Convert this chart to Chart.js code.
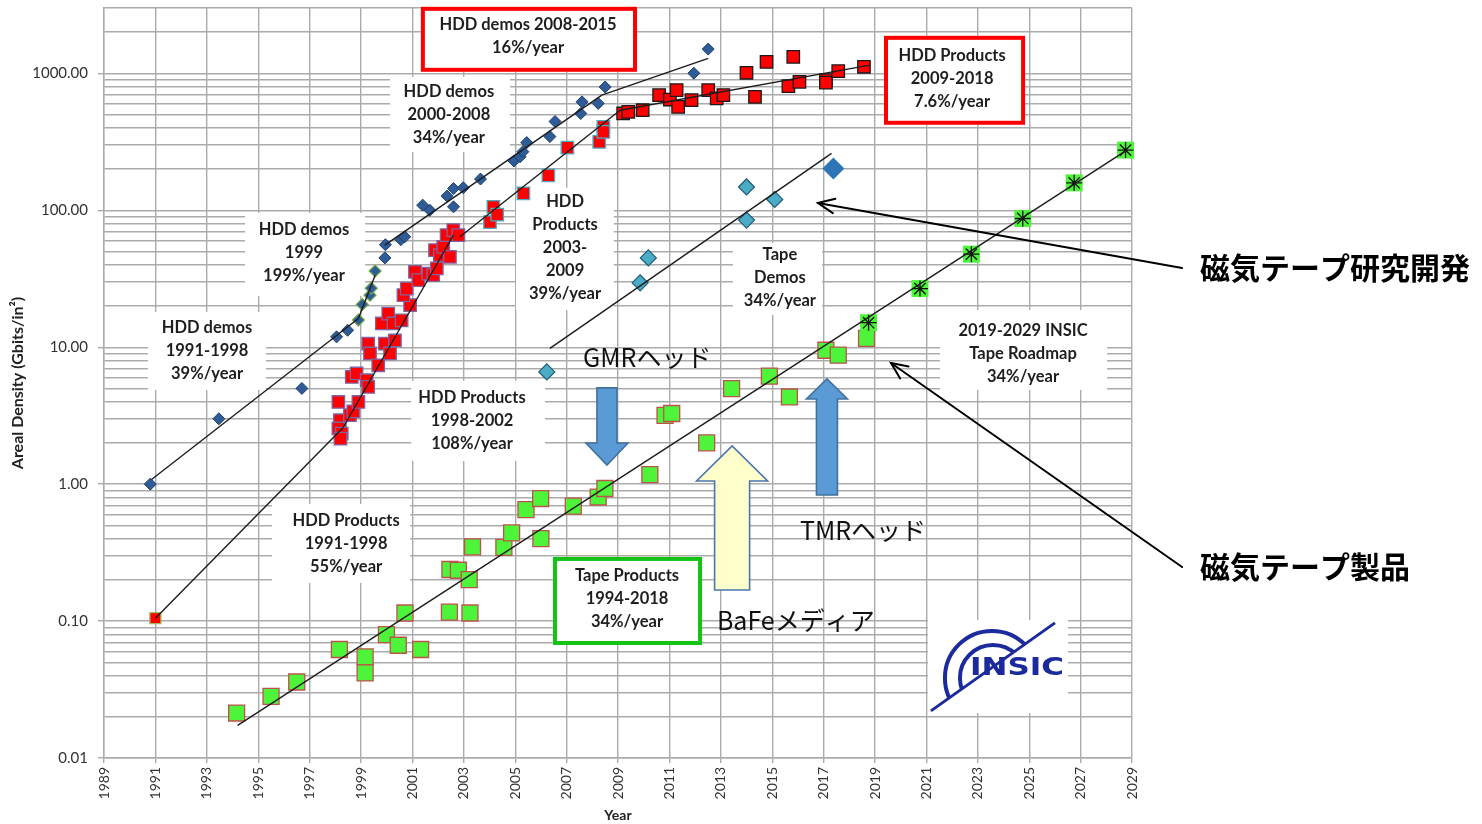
<!DOCTYPE html>
<html>
<head>
<meta charset="utf-8">
<script src="https://cdn.jsdelivr.net/npm/chart.js@4.4.1/dist/chart.umd.min.js"></script>
<style>
  html, body { margin: 0; padding: 0; background: #ffffff; }
  canvas { display: block; }
</style>
</head>
<body>
<canvas id="c" width="1482" height="824"></canvas>
<script>
// ---------- axes ----------
const xTickYears = [1989, 1991, 1993, 1995, 1997, 1999, 2001, 2003, 2005, 2007, 2009,
                    2011, 2013, 2015, 2017, 2019, 2021, 2023, 2025, 2027, 2029];
const yTickValues = [0.01, 0.1, 1, 10, 100, 1000];
const yTickLabels = ['0.01', '0.10', '1.00', '10.00', '100.00', '1000.00'];

// ---------- HDD demos (diamonds) ----------
const hddDemoYears  = [1990.8, 1993.47, 1996.7, 1998.05, 1998.48, 1999.93, 1999.95, 2000.55, 2000.7,
                       2001.4, 2001.68, 2002.35, 2002.6, 2002.6, 2002.98, 2003.65, 2004.95, 2005.19,
                       2005.3, 2005.45, 2006.35, 2006.55, 2007.55, 2007.6, 2008.23, 2008.5, 2011.95, 2012.51];
const hddDemoValues = [1.0, 3.0, 5.0, 11.9, 13.3, 44.9, 56, 61, 64,
                       109, 100, 127, 106, 144, 146, 169, 229, 246,
                       268, 312, 345, 445, 509, 619, 603, 795, 1002, 1503];
// HDD demos of 1999
const hddDemo99Years  = [1998.9, 1999.05, 1999.35, 1999.4, 1999.55];
const hddDemo99Values = [15.8, 20.5, 24, 27, 36];

// ---------- HDD products (squares) ----------
const hddProd91Years  = [1991.0];
const hddProd91Values = [0.105];
const hddProd98Years  = [1998.12, 1998.18, 1998.12, 1998.25, 1998.2, 1998.57, 1998.7, 1998.9, 1998.64, 1998.83,
                         1999.22, 1999.28, 1999.28, 1999.35, 1999.67, 1999.93, 1999.81, 2000.06, 2000.26,
                         2000.32, 2000.13, 2000.58, 2000.91, 2000.65, 2000.78, 2001.1, 2001.23, 2001.62,
                         2001.81, 2001.95, 2001.88, 2002.07, 2002.2, 2002.33, 2002.46, 2002.59, 2002.79];
const hddProd98Values = [3.98, 2.93, 2.55, 2.34, 2.15, 3.19, 3.4, 3.98, 6.07, 6.43,
                         5.74, 5.13, 10.6, 9.0, 7.38, 10.6, 14.9, 17.6, 14.9,
                         11.2, 9.0, 15.7, 20.3, 24.0, 26.8, 35.5, 30.9, 34.5,
                         33.6, 37.6, 51.1, 47.0, 54, 65.8, 45.7, 71.6, 65.8];
const hddProd03Years  = [2004.02, 2004.15, 2004.3, 2005.32, 2006.29, 2007.03, 2008.27, 2008.43, 2008.43];
const hddProd03Values = [82, 106, 93, 133, 180, 287, 316, 407, 374];
const hddProd09Years  = [2009.2, 2009.4, 2009.96, 2010.6, 2011.02, 2011.28, 2011.34, 2011.86, 2012.51,
                         2012.84, 2013.1, 2014.0, 2014.33, 2014.78, 2015.63, 2015.82, 2016.06, 2017.09,
                         2017.09, 2017.57, 2018.57];
const hddProd09Values = [509, 523, 538, 693, 644, 754, 569, 637, 754,
                         656, 693, 1009, 673, 1213, 806, 1320, 867, 892,
                         855, 1038, 1117];

// ---------- Tape demos (diamonds) ----------
const tapeDemoYears  = [2006.23, 2009.86, 2010.18, 2014.0, 2014.0, 2015.1];
const tapeDemoValues = [6.6, 29.5, 44.9, 148, 84.8, 120];
const tapeDemoLatestYears  = [2017.38];
const tapeDemoLatestValues = [202];

// ---------- Tape products (squares) ----------
const tapeProdYears  = [1994.16, 1995.5, 1996.5, 1998.16, 1999.16, 1999.16, 1999.99, 2000.45, 2000.71,
                        2001.32, 2002.44, 2002.46, 2002.79, 2003.21, 2003.24, 2003.34, 2004.56, 2004.86,
                        2005.42, 2005.99, 2006.0, 2007.26, 2008.23, 2008.49, 2010.24, 2010.83, 2011.09,
                        2012.45, 2013.42, 2014.89, 2015.67, 2017.09, 2017.57, 2018.67];
const tapeProdValues = [0.0213, 0.0282, 0.0359, 0.062, 0.0547, 0.0418, 0.0796, 0.0666, 0.1145,
                        0.062, 0.1164, 0.238, 0.235, 0.201, 0.1145, 0.348, 0.345, 0.44,
                        0.652, 0.785, 0.40, 0.69, 0.805, 0.929, 1.175, 3.18, 3.28,
                        2.0, 4.99, 6.14, 4.33, 9.5, 8.75, 11.6];

// ---------- INSIC tape roadmap ----------
const roadmapYears  = [2018.75, 2020.75, 2022.75, 2024.75, 2026.75, 2028.75];
const roadmapValues = [15.1, 26.8, 47.8, 87.1, 158.6, 275];

// ---------- growth trend lines (start, end) ----------
const trendDemo9198Years = [1990.85, 1998.9],  trendDemo9198Values = [1.08, 16.2];
const trendDemo99Years   = [1998.9, 1999.55],  trendDemo99Values   = [16.2, 33.6];
const trendDemo0008Years = [1999.93, 2008.37], trendDemo0008Values = [55.6, 693];
const trendDemo0815Years = [2008.37, 2012.51], trendDemo0815Values = [693, 1285];
const trendProd9198Years = [1991.0, 1998.3],   trendProd9198Values = [0.105, 2.58];
const trendProd9802Years = [1998.3, 2002.6],   trendProd9802Values = [2.58, 66];
const trendProd0309Years = [2002.85, 2009.08], trendProd0309Values = [64, 538];
const trendProd0918Years = [2009.08, 2018.8],  trendProd0918Values = [538, 1148];
const trendTapeDemoYears = [2006.35, 2017.31], trendTapeDemoValues = [9.8, 260];
const trendTapeProdYears = [1994.2, 2028.8],   trendTapeProdValues = [0.0173, 275];

// ---------- annotations (placed in year / value units) ----------
const labelNotes = [
  { lines: ['HDD demos 2008-2015', '16%/year'], at: [2005.5, 1862], box: [2001.33, 3060, 2009.74, 1026], edge: '#FF0000' },
  { lines: ['HDD demos', '2000-2008', '34%/year'], at: [2002.42, 498], box: [2000.13, 942, 2004.8, 267] },
  { lines: ['HDD Products', '2009-2018', '7.6%/year'], at: [2022.0, 912], box: [2019.35, 1879, 2024.84, 421], edge: '#FF0000' },
  { lines: ['HDD demos', '1999', '199%/year'], at: [1996.78, 48.9], box: [1994.49, 95.7, 1999.16, 23.7] },
  { lines: ['HDD demos', '1991-1998', '39%/year'], at: [1993.01, 9.4], box: [1990.71, 18.1, 1995.3, 4.87] },
  { lines: ['HDD', 'Products', '2003-', '2009', '39%/year'], at: [2006.94, 53.1], box: [2005.03, 146, 2008.84, 18.7] },
  { lines: ['Tape', 'Demos', '34%/year'], at: [2015.3, 32.1], box: [2013.47, 57.8, 2016.94, 17.2] },
  { lines: ['HDD Products', '1998-2002', '108%/year'], at: [2003.32, 2.9], box: [2000.95, 5.68, 2006.16, 1.475] },
  { lines: ['HDD Products', '1991-1998', '55%/year'], at: [1998.42, 0.365], box: [1995.54, 0.717, 2000.91, 0.19] },
  { lines: ['Tape Products', '1994-2018', '34%/year'], at: [2009.35, 0.145], box: [2006.47, 0.294, 2012.27, 0.0669], edge: '#14C314' },
  { lines: ['2019-2029 INSIC', 'Tape Roadmap', '34%/year'], at: [2024.76, 8.93], box: [2021.53, 18.7, 2028.03, 4.87] }
];
const techNotes = [
  { text: 'GMRヘッド', at: [2007.64, 8.35] },
  { text: 'TMRヘッド', at: [2016.08, 0.462] },
  { text: 'BaFeメディア', at: [2012.85, 0.1002] }
];
const calloutNotes = [
  { text: '磁気テープ研究開発', at: [2031.65, 37.9], tail: [2030.95, 37.9], tip: [2016.78, 113] },
  { text: '磁気テープ製品', at: [2031.65, 0.248], tail: [2030.95, 0.248], tip: [2019.62, 7.67] }
];
const blockArrows = [
  { x: 2008.57, tail: 5.05, tip: 1.38, shaft: 20, head: 42, headLen: 22, fill: '#5B9BD5', line: '#41719C' },
  { x: 2017.13, tail: 0.834, tip: 5.86, shaft: 21, head: 41, headLen: 20, fill: '#5B9BD5', line: '#41719C' },
  { x: 2013.44, tail: 0.1686, tip: 1.9, shaft: 35, head: 71, headLen: 35, fill: '#FFFFCC', line: '#4A76AE' }
];
const logoBox = [2021.06, 0.102, 2026.51, 0.0213];

// ---------- dataset builders ----------
const pts = (xs, ys) => xs.map((x, i) => ({ x, y: ys[i] }));
const trend = (xs, ys) => ({
  data: pts(xs, ys), showLine: true, borderColor: '#1c1c1c', borderWidth: 1.4,
  pointRadius: 0, fill: false, clip: false
});
const marks = (xs, ys, style, radius, fill, edge, edgeWidth) => ({
  data: pts(xs, ys), showLine: false, pointStyle: style, pointRadius: radius,
  backgroundColor: fill, borderColor: edge, borderWidth: edgeWidth, clip: false
});

const datasets = [
  trend(trendDemo9198Years, trendDemo9198Values),
  trend(trendDemo99Years, trendDemo99Values),
  trend(trendDemo0008Years, trendDemo0008Values),
  trend(trendDemo0815Years, trendDemo0815Values),
  trend(trendProd9198Years, trendProd9198Values),
  trend(trendProd9802Years, trendProd9802Values),
  trend(trendProd0309Years, trendProd0309Values),
  trend(trendProd0918Years, trendProd0918Values),
  trend(trendTapeDemoYears, trendTapeDemoValues),
  trend(trendTapeProdYears, trendTapeProdValues),
  marks(roadmapYears, roadmapValues, 'star', 8, '#111111', '#111111', 1.3),
  marks(roadmapYears, roadmapValues, 'rect', 12, '#4DF43A', '#4DF43A', 0),
  marks(tapeProdYears, tapeProdValues, 'rect', 11.3, '#4DF43A', '#C0504D', 1.3),
  marks(tapeDemoLatestYears, tapeDemoLatestValues, 'rectRot', 11, '#2E75B6', '#2E75B6', 0),
  marks(tapeDemoYears, tapeDemoValues, 'rectRot', 8, '#4BACC6', '#215A78', 1.2),
  marks(hddProd91Years, hddProd91Values, 'rect', 7.8, '#FF0000', '#9BBB59', 1.3),
  marks(hddProd09Years, hddProd09Values, 'rect', 8.8, '#FF0000', '#1a1a1a', 1.3),
  marks(hddProd03Years, hddProd03Values, 'rect', 8.8, '#FF0000', '#4BACC6', 1.3),
  marks(hddProd98Years, hddProd98Values, 'rect', 8.8, '#FF0000', '#8064A2', 1.3),
  marks(hddDemo99Years, hddDemo99Values, 'rectRot', 6, '#2F5B96', '#6FA84A', 1.2),
  marks(hddDemoYears, hddDemoValues, 'rectRot', 6, '#2F5B96', '#1F3F6B', 1)
];

// gridline positions for the log axis: 1..9 per decade, then 1000..3000
const yGridValues = [];
yTickValues.slice(0, 5).forEach(d => { for (let k = 1; k <= 9; k++) yGridValues.push(d * k); });
yGridValues.push(1000, 2000, 3000);
const isDecade = v => yTickValues.some(t => Math.abs(Math.log10(t) - Math.log10(v)) < 1e-6);

const GRID = '#ABABAB';

// ---------- drawing helpers ----------
function openArrow(ctx, x0, y0, x1, y1) {
  ctx.beginPath(); ctx.moveTo(x0, y0); ctx.lineTo(x1, y1); ctx.stroke();
  const a = Math.atan2(y1 - y0, x1 - x0), L = 18, s = 0.42;
  ctx.beginPath();
  ctx.moveTo(x1 - L * Math.cos(a - s), y1 - L * Math.sin(a - s));
  ctx.lineTo(x1, y1);
  ctx.lineTo(x1 - L * Math.cos(a + s), y1 - L * Math.sin(a + s));
  ctx.stroke();
}

function drawLogo(ctx, bx, by, bw, bh) {
  ctx.fillStyle = '#ffffff';
  ctx.fillRect(bx, by, bw, bh);
  const navy = '#1B2A9C';
  const p0 = [bx + 3, by + 91], p1 = [bx + 127, by + 3];
  const len = Math.hypot(p1[0] - p0[0], p1[1] - p0[1]);
  const d = [(p1[0] - p0[0]) / len, (p1[1] - p0[1]) / len];
  const n = [d[1], -d[0]];             // normal pointing up-left of the slash
  // the two arcs only show on the upper-left side of the slash
  ctx.save();
  ctx.beginPath();
  const e0 = [p0[0] - d[0] * 100, p0[1] - d[1] * 100], e1 = [p1[0] + d[0] * 100, p1[1] + d[1] * 100];
  ctx.moveTo(e0[0], e0[1]); ctx.lineTo(e1[0], e1[1]);
  ctx.lineTo(e1[0] + n[0] * 300, e1[1] + n[1] * 300); ctx.lineTo(e0[0] + n[0] * 300, e0[1] + n[1] * 300);
  ctx.closePath();
  ctx.clip();
  ctx.strokeStyle = navy; ctx.lineWidth = 4;
  ctx.beginPath(); ctx.arc(bx + 64, by + 58, 47, 0, Math.PI * 2); ctx.stroke();
  ctx.beginPath(); ctx.arc(bx + 65, by + 58, 33, 0, Math.PI * 2); ctx.stroke();
  ctx.restore();
  ctx.strokeStyle = navy; ctx.lineWidth = 3;
  ctx.beginPath(); ctx.moveTo(p0[0], p0[1]); ctx.lineTo(p1[0], p1[1]); ctx.stroke();
  // wordmark, stretched to its box width
  ctx.save();
  ctx.fillStyle = navy; ctx.font = 'bold 25px "DejaVu Sans"';
  ctx.textAlign = 'left'; ctx.textBaseline = 'alphabetic';
  const w = ctx.measureText('INSIC').width;
  ctx.translate(bx + 42, by + 55);
  ctx.scale(94 / w, 1);
  ctx.fillText('INSIC', 0, 0);
  ctx.restore();
}

const notesPlugin = {
  id: 'notes',
  beforeDatasetsDraw(chart) {
    const { ctx } = chart;
    const X = v => chart.scales.x.getPixelForValue(v);
    const Y = v => chart.scales.y.getPixelForValue(v);
    ctx.save();
    for (const n of labelNotes) {
      const x0 = X(n.box[0]), y0 = Y(n.box[1]), x1 = X(n.box[2]), y1 = Y(n.box[3]);
      ctx.fillStyle = '#ffffff';
      ctx.fillRect(x0, y0, x1 - x0, y1 - y0);
      if (n.edge) {
        ctx.strokeStyle = n.edge; ctx.lineWidth = 4;
        ctx.strokeRect(x0 + 2, y0 + 2, x1 - x0 - 4, y1 - y0 - 4);
      }
      ctx.fillStyle = '#1e1e1e';
      ctx.font = 'bold 16.5px Lato';
      ctx.textAlign = 'center'; ctx.textBaseline = 'middle';
      const cx = X(n.at[0]), cy = Y(n.at[1]);
      n.lines.forEach((t, i) => ctx.fillText(t, cx, cy + (i - (n.lines.length - 1) / 2) * 23));
    }
    const lx0 = X(logoBox[0]), ly0 = Y(logoBox[1]);
    drawLogo(ctx, lx0, ly0, X(logoBox[2]) - lx0, Y(logoBox[3]) - ly0);
    ctx.restore();
  },
  afterDatasetsDraw(chart) {
    const { ctx } = chart;
    const X = v => chart.scales.x.getPixelForValue(v);
    const Y = v => chart.scales.y.getPixelForValue(v);
    ctx.save();
    // technology block arrows
    for (const a of blockArrows) {
      const cx = X(a.x), yT = Y(a.tail), yP = Y(a.tip);
      const dir = yP > yT ? 1 : -1, yB = yP - dir * a.headLen;
      ctx.beginPath();
      ctx.moveTo(cx - a.shaft / 2, yT);
      ctx.lineTo(cx - a.shaft / 2, yB);
      ctx.lineTo(cx - a.head / 2, yB);
      ctx.lineTo(cx, yP);
      ctx.lineTo(cx + a.head / 2, yB);
      ctx.lineTo(cx + a.shaft / 2, yB);
      ctx.lineTo(cx + a.shaft / 2, yT);
      ctx.closePath();
      ctx.fillStyle = a.fill; ctx.fill();
      ctx.strokeStyle = a.line; ctx.lineWidth = 1.6; ctx.stroke();
    }
    ctx.fillStyle = '#111111';
    ctx.font = '25px "Noto Sans CJK JP"';
    ctx.textAlign = 'left'; ctx.textBaseline = 'middle';
    for (const t of techNotes) ctx.fillText(t.text, X(t.at[0]), Y(t.at[1]));
    // call-outs on the right
    ctx.strokeStyle = '#000000'; ctx.lineWidth = 2; ctx.lineCap = 'round';
    for (const c of calloutNotes) {
      openArrow(ctx, X(c.tail[0]), Y(c.tail[1]), X(c.tip[0]), Y(c.tip[1]));
      ctx.fillStyle = '#000000';
      ctx.font = 'bold 30px "Noto Sans CJK JP"';
      ctx.fillText(c.text, X(c.at[0]), Y(c.at[1]));
    }
    ctx.restore();
  }
};

Chart.defaults.font.family = 'Lato';

new Chart(document.getElementById('c'), {
  type: 'scatter',
  data: { datasets },
  plugins: [notesPlugin],
  options: {
    responsive: false,
    animation: false,
    events: [],
    layout: { autoPadding: false, padding: { left: 0, right: 350, top: 8, bottom: 0 } },
    plugins: { legend: { display: false }, tooltip: { enabled: false } },
    scales: {
      x: {
        type: 'linear', min: 1989, max: 2029,
        afterBuildTicks: s => { s.ticks = xTickYears.map(v => ({ value: v })); },
        afterFit: s => { s.height = 66; s.paddingLeft = 0; s.paddingRight = 0; },
        ticks: {
          autoSkip: false, maxRotation: 90, minRotation: 90, padding: 4,
          color: '#333333', font: { size: 14 },
          callback: v => String(v)
        },
        grid: { color: GRID, lineWidth: 1.4, tickLength: 5, tickColor: GRID },
        border: { display: true, color: GRID, width: 1.4 },
        title: { display: true, text: 'Year', color: '#222222', padding: { top: 0, bottom: 0 },
                 font: { size: 14, weight: 'bold' } }
      },
      y: {
        type: 'logarithmic', min: 0.01, max: 3000,
        afterBuildTicks: s => { s.ticks = yGridValues.map(v => ({ value: v, major: isDecade(v) })); },
        afterFit: s => { s.width = 104; s.paddingTop = 0; s.paddingBottom = 0; },
        ticks: {
          autoSkip: false, padding: 10, color: '#333333', font: { size: 15 },
          callback: v => {
            const i = yTickValues.findIndex(t => Math.abs(Math.log10(t) - Math.log10(v)) < 1e-6);
            return i >= 0 ? yTickLabels[i] : '';
          }
        },
        grid: {
          color: GRID, lineWidth: 1.4, tickLength: 6,
          tickColor: c => (c.tick && isDecade(c.tick.value)) ? GRID : 'rgba(0,0,0,0)'
        },
        border: { display: true, color: GRID, width: 1.4 },
        title: { display: true, text: 'Areal Density (Gbits/in²)', color: '#222222',
                 padding: { top: 8, bottom: 0 }, font: { size: 16, weight: 'bold' } }
      }
    }
  }
});
</script>
</body>
</html>
